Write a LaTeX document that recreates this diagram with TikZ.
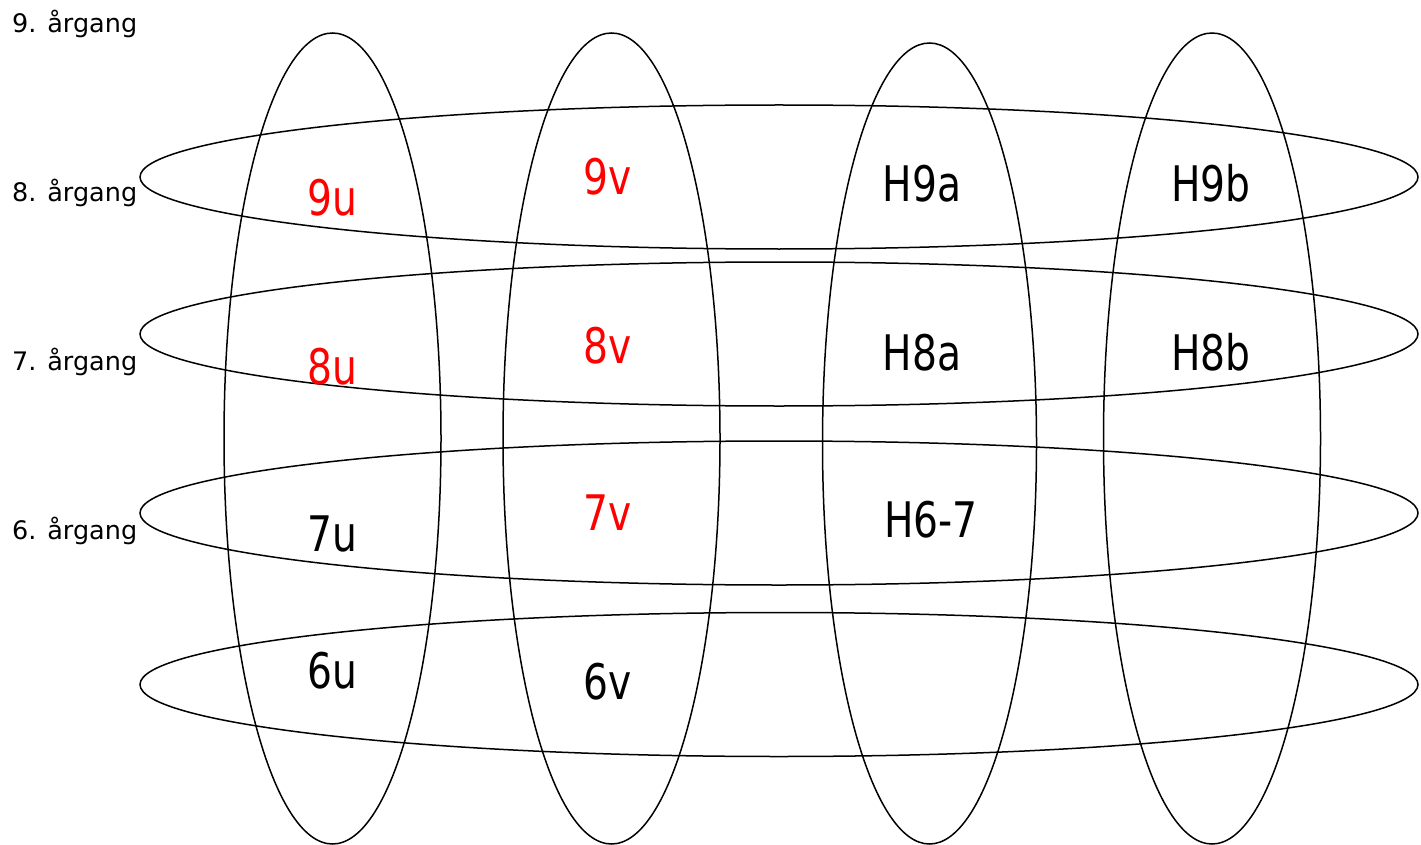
\documentclass[tikz,border=0pt]{standalone}
\usepackage{fontspec}
\setmainfont{DejaVu Sans}
\newfontfamily\bigfont[FakeStretch=0.8]{DejaVu Sans}
\usetikzlibrary{shapes.geometric}
\definecolor{lblred}{RGB}{255,0,0}
\tikzset{
  vell/.style={ellipse, draw=black, line width=1.5pt, inner sep=0pt, minimum width=217pt, minimum height=811pt},
  hell/.style={ellipse, draw=black, line width=1.5pt, inner sep=0pt, minimum width=1278pt, minimum height=144pt},
  yearlbl/.style={anchor=base west, inner sep=0pt, font=\fontsize{25.5}{30}\selectfont},
  cls/.style={anchor=base, inner sep=0pt, font=\bigfont\fontsize{49}{55}\selectfont},
  redcls/.style={cls, text=lblred}
}
\begin{document}
\begin{tikzpicture}[x=1pt,y=-1pt]
\useasboundingbox (0,0) rectangle (1421,845);
% vertical ellipses
\node[vell] (v1) at (332.5,438.5) {};
\node[vell] (v2) at (611.5,438.5) {};
\node[vell, minimum width=214pt, minimum height=801pt] (v3) at (929.5,443.5) {};
\node[vell] (v4) at (1212,438.5) {};
% horizontal ellipses
\node[hell] (h1) at (779,177) {};
\node[hell] (h2) at (779,334) {};
\node[hell] (h3) at (779,513) {};
\node[hell] (h4) at (779,684.5) {};
% year labels
\node[yearlbl] (y9) at (12,33) {9. årgang};
\node[yearlbl] (y8) at (12,201) {8. årgang};
\node[yearlbl] (y7) at (12,370) {7. årgang};
\node[yearlbl] (y6) at (12,539) {6. årgang};
% class labels
\node[redcls] (c9u) at (332,215) {9u};
\node[redcls] (c9v) at (608,195) {9v};
\node[cls] (c9a) at (922,202) {H9a};
\node[cls] (c9b) at (1211,202) {H9b};
\node[redcls] (c8u) at (332,384) {8u};
\node[redcls] (c8v) at (608,363) {8v};
\node[cls] (c8a) at (922,370) {H8a};
\node[cls] (c8b) at (1211,370) {H8b};
\node[cls] (c7u) at (332,551) {7u};
\node[redcls] (c7v) at (608,530) {7v};
\node[cls] (c67) at (931,537) {H6-7};
\node[cls] (c6u) at (332,688) {6u};
\node[cls] (c6v) at (608,699) {6v};
\end{tikzpicture}
\end{document}
